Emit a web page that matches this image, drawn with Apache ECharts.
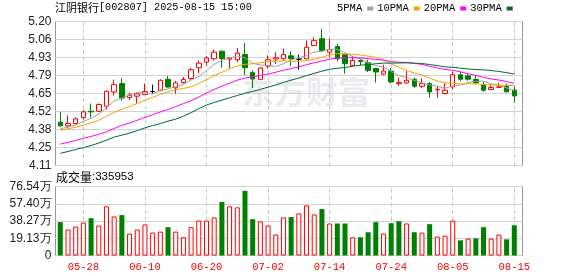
<!DOCTYPE html>
<html><head><meta charset="utf-8">
<script src="https://cdn.jsdelivr.net/npm/echarts@6/dist/echarts.min.js"></script>
<style>html,body{margin:0;padding:0;background:#fff}#c{width:578px;height:276px}</style>
</head><body><div id="c"></div>
<script>
const dates = ['05-23','05-26','05-27','05-28','05-29','05-30','06-03','06-04','06-05','06-06',
'06-09','06-10','06-11','06-12','06-13','06-16','06-17','06-18','06-19','06-20',
'06-23','06-24','06-25','06-26','06-27','06-30','07-01','07-02','07-03','07-04',
'07-07','07-08','07-09','07-10','07-11','07-14','07-15','07-16','07-17','07-18',
'07-21','07-22','07-23','07-24','07-25','07-28','07-29','07-30','07-31','08-01',
'08-04','08-05','08-06','08-07','08-08','08-11','08-12','08-13','08-14','08-15'];
// [open, close, low, high]
const ohlc = [
[4.438,4.41,4.403,4.516],[4.41,4.428,4.39,4.489],[4.428,4.463,4.42,4.474],[4.474,4.516,4.458,4.529],[4.521,4.516,4.474,4.579],
[4.521,4.572,4.516,4.58],[4.559,4.672,4.534,4.68],[4.667,4.722,4.64,4.76],[4.73,4.62,4.60,4.77],[4.624,4.642,4.605,4.662],
[4.635,4.652,4.58,4.66],[4.647,4.67,4.645,4.73],[4.67,4.67,4.655,4.722],[4.68,4.755,4.672,4.762],[4.762,4.704,4.70,4.787],
[4.698,4.735,4.655,4.75],[4.738,4.762,4.73,4.78],[4.768,4.835,4.755,4.85],[4.85,4.885,4.81,4.905],[4.893,4.923,4.868,4.94],
[4.918,4.968,4.905,4.988],[4.975,4.92,4.85,4.978],[4.915,4.925,4.843,4.93],[4.91,4.96,4.893,4.998],[4.95,4.85,4.793,5.037],
[4.813,4.765,4.697,4.83],[4.762,4.848,4.762,4.855],[4.863,4.91,4.843,4.943],[4.916,4.926,4.88,4.968],[4.918,4.95,4.905,4.995],
[4.94,4.918,4.863,4.975],[4.915,4.915,4.835,4.95],[4.918,5.005,4.915,5.057],[5.018,5.055,5.015,5.08],[5.07,4.98,4.968,5.145],
[4.968,4.988,4.93,5.07],[5.01,4.918,4.898,5.03],[4.95,4.88,4.805,4.95],[4.868,4.905,4.863,4.938],[4.905,4.898,4.868,4.912],
[4.888,4.83,4.817,4.91],[4.845,4.818,4.738,4.848],[4.802,4.825,4.793,4.873],[4.825,4.742,4.73,4.848],[4.73,4.737,4.712,4.775],
[4.735,4.755,4.73,4.825],[4.762,4.71,4.697,4.775],[4.71,4.73,4.695,4.77],[4.73,4.667,4.625,4.74],[4.683,4.687,4.623,4.71],
[4.655,4.68,4.647,4.73],[4.705,4.797,4.685,4.82],[4.797,4.763,4.75,4.82],[4.788,4.763,4.752,4.805],[4.762,4.737,4.723,4.795],
[4.723,4.68,4.668,4.742],[4.685,4.70,4.683,4.722],[4.702,4.705,4.697,4.737],[4.71,4.668,4.662,4.73],[4.68,4.637,4.585,4.705]];
const volumes = [370000,288000,321000,366000,414000,332000,545000,433000,448000,243000,
288000,344000,254000,265000,314000,265000,202000,314000,388000,388000,
422000,594000,545000,534000,717000,403000,377000,332000,232000,422000,
426000,467000,556000,456000,515000,355000,355000,355000,202000,202000,
258000,370000,243000,358000,381000,355000,258000,254000,347000,209000,
220000,388000,168000,187000,190000,314000,187000,232000,179000,335953];
const volumeUp = [0,1,1,1,0,1,1,1,0,1, 1,1,1,1,0,1,1,1,1,1, 1,0,1,1,0,0,1,1,1,1,
0,1,1,1,0,1,0,0,1,0, 0,0,1,0,0,1,0,1,0,1, 1,1,0,1,0,0,1,1,0,0];
const ma5 = [4.388,4.40,4.418,4.443,4.467,4.499,4.548,4.600,4.620,4.646,4.662,4.661,4.651,4.678,4.690,4.707,4.725,4.758,4.784,4.828,
4.875,4.906,4.924,4.939,4.925,4.884,4.870,4.867,4.860,4.880,4.910,4.924,4.943,4.969,4.975,4.989,4.989,4.964,4.934,4.918,
4.886,4.866,4.855,4.823,4.790,4.775,4.754,4.735,4.720,4.710,4.695,4.712,4.719,4.738,4.748,4.748,4.729,4.717,4.698,4.678];
const ma10 = [4.375,4.388,4.40,4.415,4.432,4.452,4.482,4.512,4.535,4.557,4.580,4.605,4.625,4.649,4.668,4.684,4.693,4.705,4.731,4.759,
4.791,4.815,4.841,4.862,4.876,4.880,4.888,4.896,4.900,4.902,4.897,4.897,4.905,4.914,4.928,4.950,4.956,4.954,4.951,4.946,
4.938,4.928,4.910,4.878,4.854,4.831,4.810,4.795,4.771,4.750,4.735,4.733,4.727,4.729,4.729,4.722,4.720,4.718,4.718,4.713];
const ma20 = [4.272,4.285,4.30,4.316,4.33,4.346,4.366,4.39,4.414,4.432,4.452,4.474,4.494,4.515,4.535,4.556,4.578,4.602,4.628,4.658,
4.686,4.710,4.733,4.756,4.772,4.782,4.791,4.801,4.816,4.831,4.844,4.856,4.873,4.888,4.902,4.915,4.922,4.925,4.926,4.924,
4.918,4.913,4.908,4.896,4.891,4.891,4.883,4.875,4.861,4.848,4.837,4.831,4.819,4.804,4.792,4.777,4.765,4.757,4.745,4.732];
const ma30 = [4.202,4.216,4.231,4.246,4.261,4.28,4.302,4.325,4.34,4.355,4.374,4.395,4.412,4.427,4.446,4.461,4.483,4.51,4.54,4.568,
4.587,4.605,4.622,4.64,4.657,4.671,4.686,4.703,4.72,4.739,4.756,4.772,4.790,4.808,4.824,4.838,4.846,4.852,4.861,4.869,
4.875,4.880,4.885,4.885,4.886,4.887,4.885,4.882,4.874,4.866,4.857,4.853,4.847,4.840,4.837,4.834,4.829,4.822,4.813,4.803];
const dateTickLabels = ['05-28','06-10','06-20','07-02','07-14','07-24','08-05','08-15'];
const priceMin = 4.11, priceMax = 5.20;
const priceTickLabels = ['4.11','4.25','4.38','4.52','4.65','4.79','4.93','5.06','5.20'];
const volMax = 765400;
const volTickLabels = ['0','19.13万','38.27万','57.40万','76.54万'];
const lastVolume = 335953;

const priceTicks = priceTickLabels.map((_, k) => priceMin + k * (priceMax - priceMin) / (priceTickLabels.length - 1));
const volTicks = volTickLabels.map((_, k) => k * volMax / (volTickLabels.length - 1));
function nearestLabel(v, ticks, labels){let b=0,d=1e18;ticks.forEach((t,i)=>{const e=Math.abs(t-v);if(e<d){d=e;b=i;}});return labels[b];}

const RED='#ff0000', GREEN='#008000';
const gridLine = {show:true, lineStyle:{color:'#d2d2d2', width:1, type:'solid'}};
const yLabel = {fontFamily:'Liberation Sans', fontSize:12, color:'#222', margin:4};
const vLines = {silent:true, symbol:'none', z:1, animation:false, label:{show:false},
  lineStyle:{color:'#c8c8c8', type:[4,3], width:1}, emphasis:{disabled:true},
  data: dateTickLabels.map(d=>({xAxis:d}))};

const chart = echarts.init(document.getElementById('c'), null, {renderer:'canvas'});
chart.setOption({
  animation:false,
  backgroundColor:'#fff',
  title:[{left:55, top:2, padding:0,
    text:'{a|江阴银行}{b|[002807] 2025-08-15 15:00}',
    textStyle:{fontWeight:'normal', rich:{a:{fontFamily:'Noto Sans CJK SC',fontSize:11,color:'#000',fontWeight:'normal'},b:{fontFamily:'Liberation Mono',fontSize:10.2,color:'#000',fontWeight:'normal'}}}},
    {left:56, top:171, padding:0,
    text:'{a|成交量}{b|:' + lastVolume + '}',
    textStyle:{fontWeight:'normal', rich:{a:{fontFamily:'Noto Sans CJK SC',fontSize:12,color:'#000',fontWeight:'normal'},b:{fontFamily:'Liberation Sans',fontSize:11.5,color:'#000',fontWeight:'normal'}}}}],
  legend:{left:337, top:3, padding:0, itemGap:4, itemWidth:6, itemHeight:4, icon:'rect', align:'right',
    textStyle:{fontFamily:'Liberation Mono', fontSize:10.5, color:'#000', padding:[0,0,0,0]},
    data:['5PMA','10PMA','20PMA','30PMA']},
  graphic:[{type:'text', z:0, left:242, top:76, silent:true,
    style:{text:'东方财富', fontFamily:'Noto Sans CJK SC', fontWeight:'bold', fontSize:32, fill:'#ebebef'}}],
  grid:[
    {left:55.5, top:21.5, width:467, height:144, show:true, borderColor:'#999', borderWidth:1, backgroundColor:'transparent'},
    {left:56.45, top:21.5, width:461.7, height:144},
    {left:55.5, top:186.5, width:467, height:69, show:true, borderColor:'#999', borderWidth:1, backgroundColor:'transparent'},
    {left:56.45, top:186.5, width:461.7, height:69}],
  xAxis:[
    {gridIndex:0, type:'value', min:0, max:1, show:false},
    {gridIndex:1, type:'category', data:dates, boundaryGap:true, axisLine:{show:false}, axisTick:{show:false}, axisLabel:{show:false}, splitLine:{show:false}},
    {gridIndex:2, type:'value', min:0, max:1, show:false},
    {gridIndex:3, type:'category', data:dates, boundaryGap:true, axisLine:{show:false}, axisTick:{show:false}, splitLine:{show:false},
      axisLabel:{show:true, interval:(i,v)=>dateTickLabels.includes(v), color:RED, fontFamily:'Liberation Mono', fontSize:10.5, margin:6}}],
  yAxis:[
    {gridIndex:0, type:'value', min:priceMin, max:priceMax, axisLine:{show:false},
      axisTick:{show:false, customValues:priceTicks},
      axisLabel:Object.assign({customValues:priceTicks, formatter:v=>nearestLabel(v,priceTicks,priceTickLabels)}, yLabel),
      splitLine:gridLine},
    {gridIndex:1, type:'value', min:priceMin, max:priceMax, show:false, splitLine:{show:false}},
    {gridIndex:2, type:'value', min:0, max:volMax, axisLine:{show:false},
      axisTick:{show:false, customValues:volTicks},
      axisLabel:Object.assign({customValues:volTicks, formatter:v=>nearestLabel(v,volTicks,volTickLabels)}, yLabel),
      splitLine:gridLine},
    {gridIndex:3, type:'value', min:0, max:volMax, show:false, splitLine:{show:false}}],
  series:[
    {type:'candlestick', name:'K', xAxisIndex:1, yAxisIndex:1, barWidth:5, z:3,
      data:ohlc,
      itemStyle:{color:'#fff', color0:GREEN, borderColor:RED, borderColor0:GREEN, borderColorDoji:'#000', borderWidth:1},
      markLine:vLines},
    {type:'line', name:'5PMA', xAxisIndex:1, yAxisIndex:1, data:ma5, showSymbol:false, z:4, lineStyle:{width:1,color:'#a0a0a0'}, itemStyle:{color:'#a0a0a0'}},
    {type:'line', name:'10PMA', xAxisIndex:1, yAxisIndex:1, data:ma10, showSymbol:false, z:4, lineStyle:{width:1,color:'#f5a300'}, itemStyle:{color:'#f5a300'}},
    {type:'line', name:'20PMA', xAxisIndex:1, yAxisIndex:1, data:ma20, showSymbol:false, z:4, lineStyle:{width:1,color:'#ff00ff'}, itemStyle:{color:'#ff00ff'}},
    {type:'line', name:'30PMA', xAxisIndex:1, yAxisIndex:1, data:ma30, showSymbol:false, z:4, lineStyle:{width:1,color:'#006a2e'}, itemStyle:{color:'#006a2e'}},
    {type:'bar', name:'VOL', xAxisIndex:3, yAxisIndex:3, barWidth:5, z:3,
      data:volumes.map((v,i)=>({value:v, itemStyle: volumeUp[i] ? {color:'#fff', borderColor:RED, borderWidth:1} : {color:GREEN, borderColor:GREEN, borderWidth:0}})),
      markLine:vLines}
  ]
});
</script></body></html>
